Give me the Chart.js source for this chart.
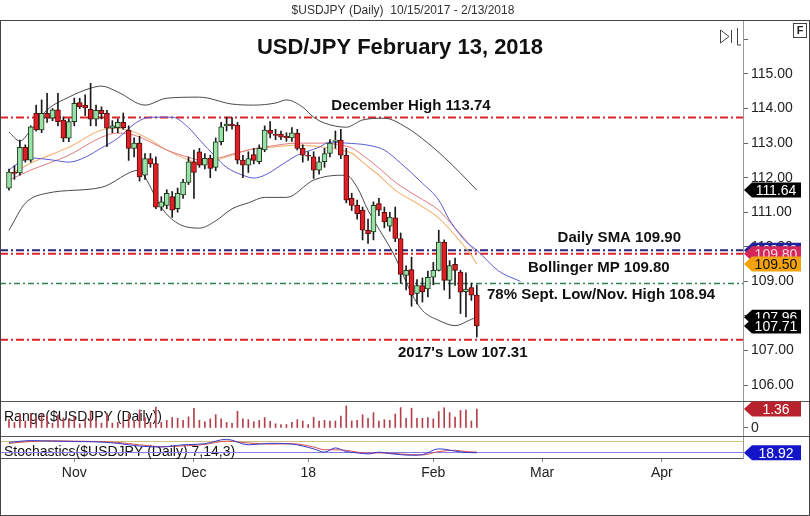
<!DOCTYPE html>
<html>
<head>
<meta charset="utf-8">
<title>USD/JPY February 13, 2018</title>
<script src="https://cdn.jsdelivr.net/npm/chart.js@4.4.0/dist/chart.umd.min.js"></script>
<style>
  html, body { margin: 0; padding: 0; background: #fff; }
  #wrap { width: 810px; height: 516px; }
</style>
</head>
<body>
<div id="wrap"><canvas id="chart" width="810" height="516"></canvas></div>
<script>
// daily candles, index 0 = Mon 10/16/2017 ... index 86 = Tue 2/13/2018
const opens = [
  111.70,112.16,112.14,112.88,112.51,113.86,113.38,113.86,113.72,113.96,
  113.67,113.14,113.62,114.17,114.10,113.98,113.69,113.95,113.86,113.43,
  113.45,113.60,113.38,112.85,113.00,112.07,112.55,112.41,111.15,111.20,
  111.45,111.10,111.50,111.86,112.46,112.75,112.36,112.56,112.30,113.04,
  113.50,113.55,113.52,112.51,112.36,112.67,112.46,112.80,113.38,113.26,
  113.26,113.20,113.15,113.28,112.85,112.65,112.60,112.22,112.46,112.70,
  113.05,113.09,112.65,111.40,111.20,111.06,110.48,110.43,111.25,111.00,
  110.60,110.84,110.24,109.17,109.34,108.65,108.88,108.78,109.12,109.32,
  110.14,109.03,109.49,109.27,108.70,108.82,108.60
];
const highs = [
  112.25,112.35,113.09,112.95,113.50,114.10,114.25,114.44,114.00,114.44,
  113.76,113.70,114.30,114.30,114.40,114.73,114.10,114.05,113.95,113.65,
  113.70,113.87,113.50,113.15,113.20,112.70,112.70,112.60,111.45,111.65,
  111.60,111.70,111.95,112.60,112.80,112.85,112.70,112.65,113.15,113.60,
  113.75,113.74,113.60,112.65,112.75,112.85,112.95,113.50,113.62,113.40,
  113.35,113.30,113.45,113.40,112.95,112.75,112.75,112.60,112.85,113.10,
  113.35,113.40,112.85,111.55,111.35,111.15,110.80,111.30,111.40,111.15,
  111.00,111.15,110.40,109.45,109.70,109.05,109.10,109.30,109.55,110.48,
  110.20,109.60,109.67,109.32,109.25,108.95,108.90
];
const lows = [
  111.64,111.95,112.07,112.45,112.45,113.35,113.30,113.60,113.65,113.50,
  113.04,113.04,113.50,114.00,113.80,113.50,113.50,113.70,112.90,113.30,
  113.30,113.40,112.50,112.60,111.90,111.95,112.30,111.10,111.05,111.10,
  110.85,111.00,111.40,111.80,111.40,112.30,112.25,112.00,112.20,112.95,
  113.35,113.40,112.40,112.00,112.15,112.40,112.40,112.75,113.15,113.10,
  113.10,113.05,113.05,112.80,112.45,112.50,111.98,112.10,112.30,112.60,
  112.85,112.55,111.27,111.05,110.80,110.20,110.10,110.20,110.90,110.55,
  110.45,110.15,108.94,108.75,108.28,108.35,108.40,108.55,108.90,109.30,
  108.75,108.50,108.88,108.07,107.97,108.45,107.39
];
const closes = [
  112.16,112.12,112.88,112.51,113.47,113.38,113.86,113.72,113.96,113.62,
  113.14,113.62,114.15,114.05,114.02,113.69,113.95,113.85,113.43,113.50,
  113.60,113.45,112.85,113.00,112.02,112.55,112.40,111.15,111.30,111.55,
  111.06,111.55,111.87,112.46,112.15,112.36,112.56,112.27,113.04,113.47,
  113.55,113.50,112.51,112.36,112.55,112.50,112.85,113.38,113.28,113.22,
  113.17,113.15,113.30,112.85,112.65,112.62,112.22,112.46,112.70,113.00,
  113.09,112.65,111.35,111.20,110.96,110.48,110.38,111.20,111.06,110.72,
  110.86,110.24,109.20,109.32,108.60,108.88,108.70,109.12,109.32,110.14,
  109.03,109.46,109.32,108.69,108.78,108.60,107.71
];

// Range($USDJPY) panel
const rangeVals = [
  0.61,0.40,1.02,0.50,1.05,0.75,0.95,0.84,0.35,0.94,
  0.72,0.66,0.80,0.30,0.60,1.23,0.60,0.35,1.05,0.35,
  0.40,0.47,1.00,0.55,1.30,0.75,0.40,1.50,0.40,0.55,
  0.75,0.70,0.55,0.80,1.40,0.55,0.45,0.65,0.95,0.65,
  0.40,0.34,1.20,0.65,0.60,0.45,0.55,0.75,0.47,0.30,
  0.25,0.25,0.40,0.60,0.50,0.25,0.77,0.50,0.55,0.50,
  0.50,0.85,1.58,0.50,0.55,0.95,0.70,1.10,0.50,0.60,
  0.55,1.00,1.46,0.70,1.42,0.70,0.70,0.75,0.65,1.18,
  1.45,1.10,0.79,1.25,1.28,0.50,1.36
];

// overlays, read at these bar indices
const upperIdx  = [0,2,4,7,11,15,17,20,25,29,35,41,45,49,51,54,56,58,62,65,69,73,77,80,83,86];
const upperBand = [113.32,113.06,113.38,113.96,114.33,114.59,114.65,114.48,114.10,114.30,114.33,114.13,114.10,114.16,114.25,114.04,113.75,113.58,113.46,113.67,113.72,113.46,113.00,112.59,112.13,111.64];
const lowerIdx  = [0,3,7,17,24,25,28,31,35,38,41,44,47,51,56,61,62,64,66,70,71,74,76,79,82,85,86];
const lowerBand = [110.48,111.26,111.55,111.72,112.22,112.02,111.14,110.68,110.54,110.75,111.10,111.27,111.43,111.43,111.93,112.07,112.07,111.72,111.06,109.99,109.70,108.65,108.16,107.87,107.72,107.90,107.96];
const blueIdx   = [0,2,4,8,11,14,17,20,23,25,27,30,33,35,38,40,43,45,47,50,53,57,59,62,66,69,72,76,79,81,84,86,90,94];
const blueLine  = [112.22,112.45,112.57,112.51,112.45,112.59,112.86,113.14,113.55,113.72,113.75,113.75,113.45,113.10,112.60,112.30,112.07,111.99,112.07,112.36,112.65,112.88,113.03,113.00,112.94,112.80,112.42,111.84,111.35,110.77,110.15,109.90,109.30,109.00];
const maIdx     = [0,4,11,17,20,23,26,29,33,35,38,41,44,48,53,58,61,63,65,68,71,75,79,82,85,86];
const orangeLine= [112.07,112.42,112.88,113.38,113.43,113.32,113.09,112.80,112.51,112.42,112.51,112.65,112.80,112.88,112.94,112.88,112.80,112.71,112.45,112.07,111.64,111.26,110.83,110.33,109.75,109.50];
const pinkLine  = [111.93,112.22,112.65,113.17,113.29,113.23,113.03,112.80,112.59,112.51,112.55,112.68,112.80,112.91,113.00,113.00,112.94,112.86,112.65,112.28,111.87,111.46,111.06,110.54,110.00,109.80];

// stochastics panel
const stochIdx = [0,4,8,12,16,20,24,28,32,36,40,44,48,52,56,58,60,62,64,66,68,70,72,74,76,79,82,84,86];
const stochK   = [75,85,82,80,78,70,55,50,62,68,92,62,70,66,40,22,45,25,18,12,22,14,8,5,8,40,28,20,18.92];
const stochD   = [70,80,84,82,80,75,62,52,56,64,82,72,66,68,50,35,35,32,22,16,18,16,12,8,7,25,32,25,22];
const stochLevels = [80, 20];

// horizontal levels: Dec high, daily SMA, Bollinger MP, 78%, 2017 low
const levelValues = [113.74, 109.90, 109.80, 108.94, 107.31];

// right side value tags
const tagValues = [111.64, 109.90, 109.80, 109.50, 107.96, 107.71];
const rangeTag = 1.36;
const stochTag = 18.92;

// axis ticks
const priceTicks = [106,107,108,109,110,111,112,113,114,115,116];
const tickIdx = [12, 34, 55, 78, 98, 120];
const tickLabels = ['Nov', 'Dec', '18', 'Feb', 'Mar', 'Apr'];

const X_MIN = -1.654, X_MAX = 134.93;
const FONT = '"Liberation Sans", Arial, sans-serif';

const pts = (idx, vals) => idx.map((x, k) => ({ x: x, y: vals[k] }));
const flat = v => [{ x: X_MIN, y: v }, { x: X_MAX, y: v }];
const isUp = i => closes[i] >= opens[i];

function lineDs(data, color, width, axis, order) {
  return { type: 'line', data: data, borderColor: color, borderWidth: width, pointRadius: 0,
    cubicInterpolationMode: 'monotone', yAxisID: axis, order: order };
}
function levelDs(v, color, width, dash) {
  return { type: 'line', data: flat(v), borderColor: color, borderWidth: width, borderDash: dash,
    pointRadius: 0, yAxisID: 'y', order: 20 };
}

function drawTag(c, y, text, bg, fg) {
  const h = 15;
  c.beginPath();
  c.moveTo(744, y);
  c.lineTo(752, y - h / 2);
  c.lineTo(801, y - h / 2);
  c.lineTo(801, y + h / 2);
  c.lineTo(752, y + h / 2);
  c.closePath();
  c.fillStyle = bg;
  c.fill();
  c.fillStyle = fg;
  c.font = '14px ' + FONT;
  c.textAlign = 'center';
  c.textBaseline = 'middle';
  c.fillText(text, 776, y + 1);
}

const decor = {
  id: 'decor',
  beforeDraw(chart) {
    const c = chart.ctx;
    c.save();
    c.fillStyle = '#fff';
    c.fillRect(0, 0, chart.width, chart.height);
    c.restore();
  },
  beforeDatasetsDraw(chart) {
    const c = chart.ctx;
    c.save();
    c.fillStyle = '#111';
    c.font = '14px ' + FONT;
    c.textAlign = 'left';
    c.textBaseline = 'middle';
    c.fillText('Range($USDJPY (Daily))', 4, 417);
    c.fillText('Stochastics($USDJPY (Daily) 7,14,3)', 4, 452);
    c.restore();
  },
  afterDatasetsDraw(chart) {
    const c = chart.ctx, y = chart.scales.y;
    c.save();
    c.fillStyle = '#111';
    c.textBaseline = 'middle';
    c.font = 'bold 22px ' + FONT;
    c.textAlign = 'center';
    c.fillText('USD/JPY February 13, 2018', 400, 48);
    c.font = 'bold 15px ' + FONT;
    c.fillText('December High 113.74', 411, y.getPixelForValue(levelValues[0]) - 12);
    c.textAlign = 'right';
    c.fillText('Daily SMA 109.90', 681, y.getPixelForValue(levelValues[1]) - 12);
    c.textAlign = 'left';
    c.fillText('Bollinger MP 109.80', 528, y.getPixelForValue(levelValues[2]) + 14);
    c.fillText('78% Sept. Low/Nov. High 108.94', 487, y.getPixelForValue(levelValues[3]) + 11);
    c.fillText("2017's Low 107.31", 398, y.getPixelForValue(levelValues[4]) + 13);
    c.restore();
  },
  afterDraw(chart) {
    const c = chart.ctx, s = chart.scales;
    c.save();
    // header
    c.fillStyle = '#333';
    c.font = '12px ' + FONT;
    c.textAlign = 'center';
    c.textBaseline = 'middle';
    c.fillText('$USDJPY (Daily)  10/15/2017 - 2/13/2018', 403, 11);
    // panel separators and frame
    c.strokeStyle = '#555';
    c.lineWidth = 1;
    c.beginPath();
    c.moveTo(0, Math.round(s.yr.top) + 0.5); c.lineTo(810, Math.round(s.yr.top) + 0.5);
    c.moveTo(0, Math.round(s.ys.top) + 0.5); c.lineTo(810, Math.round(s.ys.top) + 0.5);
    c.stroke();
    c.strokeStyle = '#444';
    c.strokeRect(0.5, 20.5, 809, 495);
    // tool icons
    c.strokeStyle = '#444';
    c.beginPath();
    c.moveTo(720.5, 30); c.lineTo(720.5, 43); c.lineTo(729, 36.5); c.closePath();
    c.moveTo(731.5, 30); c.lineTo(731.5, 43);
    c.moveTo(737.5, 28); c.lineTo(737.5, 45); c.lineTo(741, 45);
    c.stroke();
    c.strokeRect(793.5, 23.5, 13, 14);
    c.fillStyle = '#222';
    c.font = 'bold 11px ' + FONT;
    c.fillText('F', 800, 31);
    // value tags
    const tagStyles = [['#000', '#fff'], ['#22229a', '#fff'], ['#d4285a', '#ffd6e2'],
                       ['#f2a20c', '#111'], ['#000', '#fff'], ['#000', '#fff']];
    tagValues.forEach((v, k) => drawTag(c, s.y.getPixelForValue(v), v.toFixed(2), tagStyles[k][0], tagStyles[k][1]));
    drawTag(c, s.yr.getPixelForValue(rangeTag), rangeTag.toFixed(2), '#b8222c', '#fff');
    drawTag(c, s.ys.getPixelForValue(stochTag), stochTag.toFixed(2), '#1414c8', '#fff');
    c.restore();
  }
};

const axisFont = { family: FONT, size: 14 };

new Chart(document.getElementById('chart'), {
  type: 'bar',
  data: {
    datasets: [
      levelDs(levelValues[0], '#d8262a', 2, [8, 3, 2, 3]),
      levelDs(levelValues[1], '#24247e', 2, [8, 3, 2, 3]),
      levelDs(levelValues[2], '#d8262a', 2, [8, 3, 2, 3]),
      levelDs(levelValues[3], '#2f7f52', 1.5, [6, 3, 2, 3]),
      levelDs(levelValues[4], '#d8262a', 2, [8, 3, 2, 3]),
      lineDs(pts(upperIdx, upperBand), '#4a4a4a', 1, 'y', 10),
      lineDs(pts(lowerIdx, lowerBand), '#4a4a4a', 1, 'y', 10),
      lineDs(pts(blueIdx, blueLine), '#5a5ad4', 1, 'y', 10),
      lineDs(pts(maIdx, pinkLine), '#e07a7c', 1, 'y', 10),
      lineDs(pts(maIdx, orangeLine), '#f5b77e', 1.2, 'y', 10),
      {
        type: 'bar', data: lows.map((l, i) => ({ x: i, y: [l, highs[i]] })),
        backgroundColor: '#1a1a1a', barThickness: 1, grouped: false, yAxisID: 'y', order: 5
      },
      {
        type: 'bar', data: opens.map((o, i) => ({ x: i, y: [o, closes[i]] })),
        backgroundColor: ctx => isUp(ctx.dataIndex) ? '#98e2a8' : '#dd1f26',
        borderColor: ctx => isUp(ctx.dataIndex) ? '#1d3b1d' : '#5a0c0c',
        borderWidth: 1, borderSkipped: false, barThickness: 5, grouped: false, yAxisID: 'y', order: 4
      },
      {
        type: 'bar', data: rangeVals.map((r, i) => ({ x: i, y: r })),
        backgroundColor: '#b4404c', barThickness: 1, grouped: false, yAxisID: 'yr', order: 4
      },
      { type: 'line', data: flat(stochLevels[0]), borderColor: '#cfc27a', borderWidth: 1, pointRadius: 0, yAxisID: 'ys', order: 9 },
      { type: 'line', data: flat(stochLevels[1]), borderColor: '#8a7ce0', borderWidth: 1, pointRadius: 0, yAxisID: 'ys', order: 9 },
      lineDs(pts(stochIdx, stochD), '#d45050', 1, 'ys', 8),
      lineDs(pts(stochIdx, stochK), '#3a3acc', 1, 'ys', 7)
    ]
  },
  options: {
    responsive: false,
    animation: false,
    events: [],
    layout: { padding: { top: 20, left: 0, right: 0, bottom: 0 } },
    plugins: { legend: { display: false }, tooltip: { enabled: false } },
    scales: {
      x: {
        type: 'linear', min: X_MIN, max: X_MAX, offset: false,
        afterBuildTicks: a => { a.ticks = tickIdx.map(v => ({ value: v })); },
        afterFit: a => { a.height = 58; },
        ticks: { callback: (v, i) => tickLabels[i], autoSkip: false, maxRotation: 0, font: axisFont, color: '#222', padding: 3 },
        grid: { drawOnChartArea: false, tickLength: 4, color: '#888', offset: false },
        border: { color: '#555' }
      },
      y: {
        type: 'linear', position: 'right', stack: 'panels', stackWeight: 381,
        min: 105.538, max: 116.5625,
        afterBuildTicks: a => { a.ticks = priceTicks.map(v => ({ value: v })); },
        afterFit: a => { a.width = 67; },
        ticks: { callback: v => (v <= 115 ? v.toFixed(2) : ''), font: axisFont, color: '#222', padding: 3 },
        grid: { drawOnChartArea: false, tickLength: 5, color: '#666' },
        border: { color: '#999' }
      },
      yr: {
        type: 'linear', position: 'right', stack: 'panels', stackWeight: 35,
        min: -0.573, max: 1.933,
        afterBuildTicks: a => { a.ticks = [{ value: 0 }]; },
        afterFit: a => { a.width = 67; },
        ticks: { callback: v => String(v), font: axisFont, color: '#222', padding: 3 },
        grid: { drawOnChartArea: false, tickLength: 5, color: '#666' },
        border: { color: '#999' }
      },
      ys: {
        type: 'linear', position: 'right', stack: 'panels', stackWeight: 22,
        min: -10, max: 110,
        afterBuildTicks: a => { a.ticks = []; },
        afterFit: a => { a.width = 67; },
        ticks: { display: false },
        grid: { drawOnChartArea: false, color: '#666' },
        border: { color: '#999' }
      }
    }
  },
  plugins: [decor]
});
</script>
</body>
</html>
